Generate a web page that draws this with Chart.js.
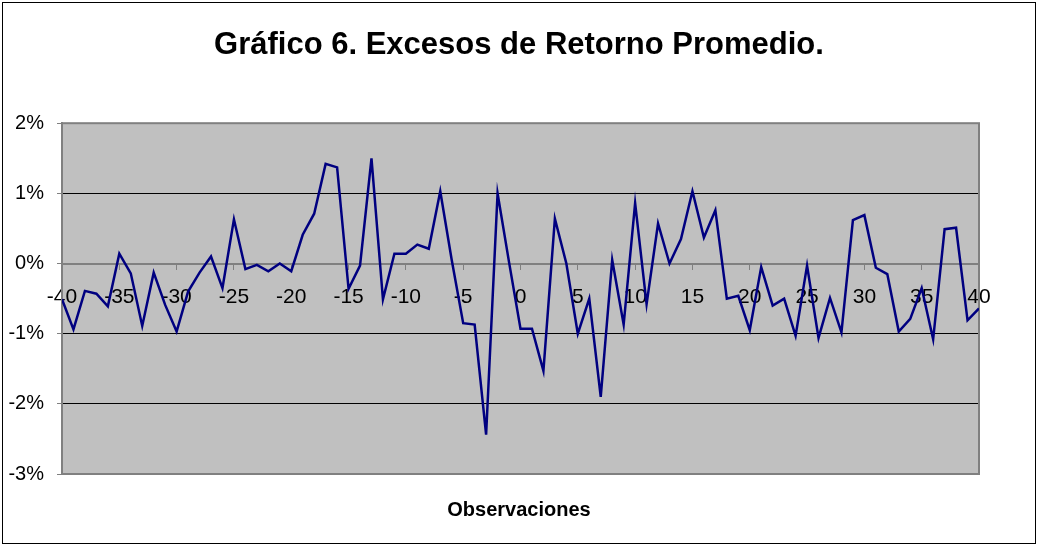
<!DOCTYPE html>
<html>
<head>
<meta charset="utf-8">
<script src="https://cdn.jsdelivr.net/npm/chart.js@4/dist/chart.umd.min.js"></script>
<style>
  html, body { margin: 0; padding: 0; background: #fff; }
  #wrap { width: 1038px; height: 546px; position: relative; }
</style>
</head>
<body>
<div id="wrap"><canvas id="chart"></canvas></div>
<script>
// observation index (days around the event)
const categories = [
  -40, -39, -38, -37, -36, -35, -34, -33, -32, -31,
  -30, -29, -28, -27, -26, -25, -24, -23, -22, -21,
  -20, -19, -18, -17, -16, -15, -14, -13, -12, -11,
  -10, -9, -8, -7, -6, -5, -4, -3, -2, -1,
  0, 1, 2, 3, 4, 5, 6, 7, 8, 9,
  10, 11, 12, 13, 14, 15, 16, 17, 18, 19,
  20, 21, 22, 23, 24, 25, 26, 27, 28, 29,
  30, 31, 32, 33, 34, 35, 36, 37, 38, 39,
  40
];

// average excess return, in %
const excesos = [
  -0.51, -0.94, -0.39, -0.43, -0.61, 0.14, -0.14, -0.89, -0.13, -0.59,
  -0.97, -0.40, -0.13, 0.10, -0.35, 0.63, -0.08, -0.02, -0.11, 0.00,
  -0.11, 0.41, 0.71, 1.42, 1.37, -0.36, -0.03, 1.50, -0.51, 0.14,
  0.14, 0.27, 0.21, 1.03, 0.05, -0.85, -0.87, -2.44, 1.00, 0.02,
  -0.93, -0.93, -1.53, 0.64, 0.00, -1.00, -0.50, -1.90, 0.05, -0.87,
  0.86, -0.58, 0.57, 0.00, 0.35, 1.03, 0.37, 0.76, -0.50, -0.46,
  -0.95, -0.05, -0.60, -0.50, -1.03, -0.03, -1.06, -0.49, -0.98, 0.62,
  0.69, -0.06, -0.15, -0.97, -0.79, -0.35, -1.08, 0.49, 0.51, -0.81,
  -0.64
];

const FONT = "'Liberation Sans', Arial, sans-serif";

//grey plot box + outer frame, excel style
const plotBox = {
  id: 'plotBox',
  beforeDraw(chart) {
    const { ctx, chartArea: a } = chart;
    ctx.save();
    ctx.fillStyle = '#c0c0c0';
    ctx.fillRect(a.left, a.top, a.right - a.left, a.bottom - a.top);
    ctx.strokeStyle = '#000';
    ctx.lineWidth = 1;
    ctx.strokeRect(2.5, 2.5, chart.width - 5, chart.height - 5);
    ctx.restore();
  },
  beforeDatasetsDraw(chart) {
    const { ctx, chartArea: a } = chart;
    ctx.save();
    ctx.strokeStyle = '#808080';
    ctx.lineWidth = 2;
    ctx.strokeRect(a.left, a.top, a.right - a.left, a.bottom - a.top);
    ctx.restore();
  }
};

new Chart(document.getElementById('chart'), {
  type: 'line',
  data: {
    datasets: [{
      data: excesos.map((v, i) => ({ x: categories[i], y: v })),
      borderColor: '#000080',
      borderWidth: 2.5,
      pointRadius: 0,
      tension: 0,
      fill: false
    }]
  },
  options: {
    responsive: true,
    maintainAspectRatio: false,
    animation: false,
    layout: { padding: 0 },
    plugins: {
      legend: { display: false },
      tooltip: { enabled: false },
      title: {
        display: true,
        text: 'Gráfico 6. Excesos de Retorno Promedio.',
        color: '#000',
        font: { family: FONT, size: 31, weight: 'bold' },
        padding: { top: 27, bottom: 59 }
      },
      subtitle: {
        display: true,
        position: 'bottom',
        text: 'Observaciones',
        color: '#000',
        font: { family: FONT, size: 20, weight: 'bold' },
        padding: { top: 24, bottom: 24 }
      }
    },
    scales: {
      x: {
        type: 'linear',
        position: { y: 0 },
        min: -40,
        max: 40,
        ticks: {
          stepSize: 5,
          color: '#000',
          font: { family: FONT, size: 21 },
          padding: 16,
          maxRotation: 0,
          autoSkip: false
        },
        grid: { drawOnChartArea: false, tickLength: 5, tickColor: '#808080' },
        border: { color: '#808080', width: 2 }
      },
      y: {
        min: -3,
        max: 2,
        ticks: {
          stepSize: 1,
          color: '#000',
          font: { family: FONT, size: 20 },
          padding: 13,
          callback: (v) => v + '%'
        },
        grid: {
          color: (c) => (c.tick && (c.tick.value === 0 || c.tick.value === 2 || c.tick.value === -3)) ? 'rgba(0,0,0,0)' : '#000',
          lineWidth: 1,
          tickLength: 5,
          tickColor: '#808080'
        },
        border: { color: '#808080', width: 2 },
        afterFit: (scale) => { scale.width = 62; }
      },
      //empty right-hand gutter so the title stays centred on the whole frame
      gutter: {
        type: 'linear',
        position: 'right',
        display: true,
        ticks: { display: false },
        grid: { display: false },
        border: { display: false },
        afterFit: (scale) => { scale.width = 59; }
      }
    }
  },
  plugins: [plotBox]
});
</script>
</body>
</html>
